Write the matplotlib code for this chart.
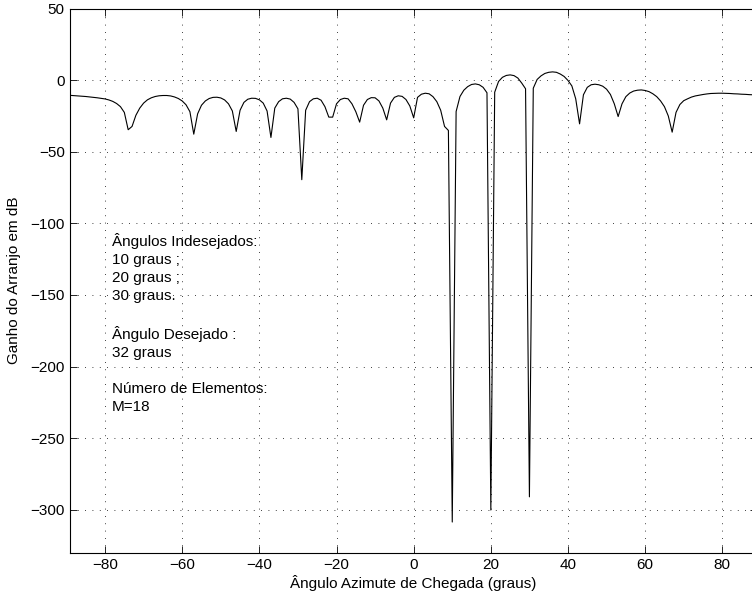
import numpy as np  # Arrays for the sampled beam pattern
import matplotlib
matplotlib.use("Agg")  # No display available
import matplotlib.pyplot as plt  # Plotting

plt.rcParams['font.family'] = ['Liberation Sans', 'DejaVu Sans']
plt.rcParams['axes.unicode_minus'] = True

# Azimuth angles sampled every degree (graus)
angulos = np.arange(-90, 91)

# Array gain (dB), one value per degree
ganho_db = [
    -10.5, -10.6, -10.8, -11.0, -11.2, -11.4, -11.7, -12.0, -12.3, -12.7,   # -90..-81
    -13.1, -13.8, -14.8, -16.3, -18.5, -22.5, -34.6, -32.3, -24.5, -19.5,   # -80..-71
    -16.0, -13.7, -12.3, -11.4, -10.9, -10.7, -10.7, -11.0, -11.7, -12.8,   # -70..-61
    -14.5, -17.2, -22.0, -37.7, -23.5, -17.5, -14.5, -12.8, -12.0, -11.9,   # -60..-51
    -12.4, -13.8, -16.5, -21.5, -35.8, -21.0, -15.5, -13.3, -12.6, -12.7,   # -50..-41
    -13.7, -16.0, -21.5, -40.0, -19.5, -15.0, -13.0, -12.6, -13.2, -15.5,   # -40..-31
    -20.0, -69.5, -21.0, -15.0, -13.0, -12.6, -14.0, -18.5, -25.8, -25.8,   # -30..-21
    -16.5, -13.5, -12.6, -13.0, -16.5, -22.0, -29.3, -17.5, -13.5, -12.2,   # -20..-11
    -12.3, -14.5, -19.5, -27.7, -16.0, -12.0, -10.9, -11.3, -13.5, -18.0,   # -10..-1
    -26.3, -12.0, -9.8, -9.1, -9.5, -11.5, -15.0, -21.0, -32.3, -35.1,      # 0..9
    -308.6, -21.9, -11.4, -7.0, -4.5, -3.0, -2.6, -3.2, -5.0, -8.8,         # 10..19
    -300.2, -8.4, -0.9, 2.0, 3.3, 3.7, 3.2, 1.5, -2.0, -6.0,                # 20..29
    -291.0, -5.6, 0.5, 3.0, 4.7, 5.5, 5.8, 5.5, 4.3, 2.6,                   # 30..39
    -0.2, -4.0, -13.0, -30.5, -10.2, -5.0, -3.2, -2.8, -3.2, -4.2,          # 40..49
    -6.3, -10.0, -16.5, -25.4, -16.5, -11.5, -9.0, -7.6, -7.0, -6.8,        # 50..59
    -7.2, -8.0, -9.5, -11.5, -14.5, -18.5, -25.0, -36.3, -22.5, -17.0,      # 60..69
    -14.3, -13.0, -11.8, -11.0, -10.5, -10.0, -9.6, -9.3, -9.2, -9.1,       # 70..79
    -9.1, -9.2, -9.3, -9.5, -9.6, -9.8, -9.9, -10.1, -10.2, -10.3,          # 80..89
    -10.4,                                                                  # 90
]

# Annotation text shown inside the axes
texto_info = ("Ângulos Indesejados:\n10 graus ;\n20 graus ;\n30 graus.\n\n"
              "Ângulo Desejado :\n32 graus\n\n"
              "Número de Elementos:\nM=18")

fig = plt.figure(figsize=(7.52, 6.01), dpi=100)
# Axes run past the right edge of the picture, like the cropped original
ax = fig.add_axes([0.0935, 0.0804, 0.9132, 0.9053])

ax.plot(angulos, ganho_db, color='k', linewidth=0.8)

ax.set_xlim(-89, 89)
ax.set_ylim(-330, 50)
ax.set_xticks(np.arange(-80, 81, 20))
ax.set_yticks(np.arange(-300, 51, 50))

# MATLAB-like dotted grid and inward ticks on every side
ax.grid(True, color='k', linestyle=(0, (1, 7.8)), linewidth=0.6)
ax.tick_params(direction='in', top=True, right=True, length=5, width=0.6,
               labelsize=11, pad=4)
for s in ax.spines.values():
    s.set_linewidth(0.8)

ax.set_xlabel('Ângulo Azimute de Chegada (graus)', fontsize=11, labelpad=2)
ax.set_ylabel('Ganho do Arranjo em dB', fontsize=11, labelpad=7)

ax.text(-78.3, -106.5, texto_info, fontsize=11, ha='left', va='top',
        linespacing=1.37)

fig.savefig('out.png', dpi=100)
